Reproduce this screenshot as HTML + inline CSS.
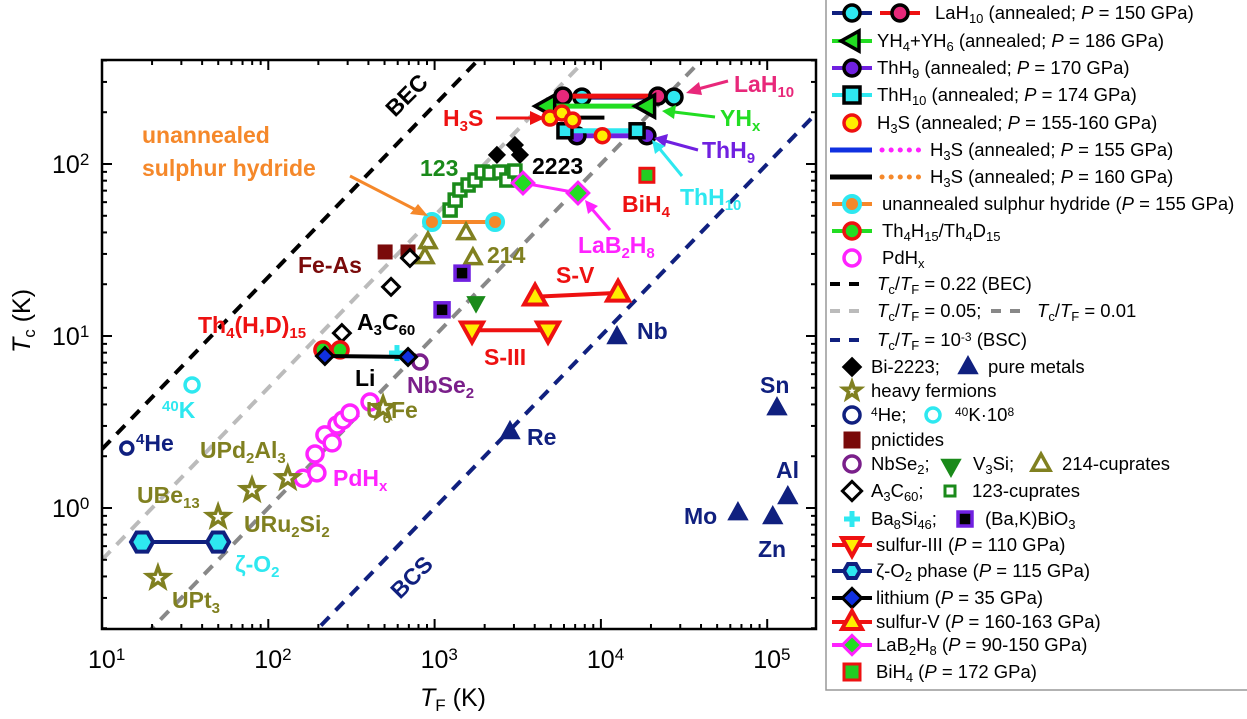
<!DOCTYPE html>
<html><head><meta charset="utf-8"><style>
html,body{margin:0;background:#fff;width:1247px;height:719px;overflow:hidden}
svg{display:block;font-family:"Liberation Sans",sans-serif}
.lb{font-weight:bold;font-size:23px}
.lg{font-size:18.5px}
</style></head><body>
<svg id="c" width="1247" height="719" viewBox="0 0 1247 719">
<g id="plot"></g>
<g id="marks"></g>
<g id="axes"></g>
<g>
<text class="lb" x="395" y="118" fill="#000" transform="rotate(-45 395 118)">BEC</text>
<text class="lb" x="400" y="600" fill="#10207f" transform="rotate(-45 400 600)">BCS</text>
<text class="lb" x="142" y="143" fill="#f5882a" font-size="24">unannealed</text>
<text class="lb" x="142" y="176" fill="#f5882a" font-size="24">sulphur hydride</text>
<text class="lb" x="443" y="126" fill="#ee1111">H<tspan baseline-shift="-30%" font-size="15">3</tspan>S</text>
<text class="lb" x="734" y="92" fill="#e8287a">LaH<tspan baseline-shift="-30%" font-size="15">10</tspan></text>
<text class="lb" x="720" y="126" fill="#22dd22">YH<tspan baseline-shift="-30%" font-size="15">x</tspan></text>
<text class="lb" x="702" y="158" fill="#7020e0">ThH<tspan baseline-shift="-30%" font-size="15">9</tspan></text>
<text class="lb" x="680" y="205" fill="#2ee8f0">ThH<tspan baseline-shift="-30%" font-size="15">10</tspan></text>
<text class="lb" x="420" y="176" fill="#1a8a1a">123</text>
<text class="lb" x="532" y="174" fill="#000">2223</text>
<text class="lb" x="622" y="212" fill="#ee1111">BiH<tspan baseline-shift="-30%" font-size="15">4</tspan></text>
<text class="lb" x="578" y="253" fill="#ff22ff">LaB<tspan baseline-shift="-30%" font-size="15">2</tspan>H<tspan baseline-shift="-30%" font-size="15">8</tspan></text>
<text class="lb" x="487" y="263" fill="#808020">214</text>
<text class="lb" x="556" y="283" fill="#ee1111">S-V</text>
<text class="lb" x="484" y="365" fill="#ee1111">S-III</text>
<text class="lb" x="637" y="339" fill="#10207f">Nb</text>
<text class="lb" x="298" y="273" fill="#7a0a0a">Fe-As</text>
<text class="lb" x="357" y="330" fill="#000">A<tspan baseline-shift="-30%" font-size="15">3</tspan>C<tspan baseline-shift="-30%" font-size="15">60</tspan></text>
<text class="lb" x="198" y="333" fill="#ee1111">Th<tspan baseline-shift="-30%" font-size="15">4</tspan>(H,D)<tspan baseline-shift="-30%" font-size="15">15</tspan></text>
<text class="lb" x="355" y="386" fill="#000">Li</text>
<text class="lb" x="407" y="393" fill="#7a1f8a">NbSe<tspan baseline-shift="-30%" font-size="15">2</tspan></text>
<text class="lb" x="366" y="418" fill="#808020">U<tspan baseline-shift="-30%" font-size="15">6</tspan>Fe</text>
<text class="lb" x="333" y="486" fill="#ff22ff">PdH<tspan baseline-shift="-30%" font-size="15">x</tspan></text>
<text class="lb" x="200" y="458" fill="#808020">UPd<tspan baseline-shift="-30%" font-size="15">2</tspan>Al<tspan baseline-shift="-30%" font-size="15">3</tspan></text>
<text class="lb" x="137" y="503" fill="#808020">UBe<tspan baseline-shift="-30%" font-size="15">13</tspan></text>
<text class="lb" x="244" y="532" fill="#808020">URu<tspan baseline-shift="-30%" font-size="15">2</tspan>Si<tspan baseline-shift="-30%" font-size="15">2</tspan></text>
<text class="lb" x="235" y="572" fill="#2ee8f0">ζ-O<tspan baseline-shift="-30%" font-size="15">2</tspan></text>
<text class="lb" x="172" y="608" fill="#808020">UPt<tspan baseline-shift="-30%" font-size="15">3</tspan></text>
<text class="lb" x="136" y="451" fill="#10207f"><tspan baseline-shift="50%" font-size="15">4</tspan>He</text>
<text class="lb" x="162" y="418" fill="#2ee8f0"><tspan baseline-shift="50%" font-size="15">40</tspan>K</text>
<text class="lb" x="527" y="445" fill="#10207f">Re</text>
<text class="lb" x="760" y="393" fill="#10207f">Sn</text>
<text class="lb" x="776" y="478" fill="#10207f">Al</text>
<text class="lb" x="684" y="524" fill="#10207f">Mo</text>
<text class="lb" x="758" y="557" fill="#10207f">Zn</text>
</g>
<g stroke-width="3">
<line x1="350" y1="176" x2="418" y2="211" stroke="#f5882a"/><polygon points="428,216 410,214 418,204" fill="#f5882a"/>
<line x1="496" y1="118" x2="532" y2="118" stroke="#ee1111"/><polygon points="545,118 530,111 530,125" fill="#ee1111"/>
<line x1="728" y1="81" x2="698" y2="89" stroke="#e8287a"/><polygon points="686,93 699,82 702,95" fill="#e8287a"/>
<line x1="715" y1="117" x2="674" y2="112" stroke="#22dd22"/><polygon points="662,111 676,105 674,119" fill="#22dd22"/>
<line x1="698" y1="150" x2="665" y2="141" stroke="#7020e0"/><polygon points="654,138 668,134 665,147" fill="#7020e0"/>
<line x1="682" y1="176" x2="659" y2="148" stroke="#2ee8f0"/><polygon points="652,140 665,146 655,154" fill="#2ee8f0"/>
<line x1="610" y1="230" x2="592" y2="209" stroke="#ff22ff"/><polygon points="585,200 598,206 588,214" fill="#ff22ff"/>
</g>
<g id="legend"></g>
<text x="22" y="345" font-size="25" transform="rotate(-90 30 345)"><tspan font-style="italic">T</tspan><tspan baseline-shift="-30%" font-size="17">c</tspan> (K)</text>
<text x="420" y="706" font-size="25"><tspan font-style="italic">T</tspan><tspan baseline-shift="-30%" font-size="17">F</tspan> (K)</text>
</svg>
<script>
// ---- data ----
const xTickExps=[1,2,3,4,5];
const yTickExps=[0,1,2];
const ratioLines=[0.22,0.05,0.01,0.001];
const lah10NavyTF=[7690,27500], lah10NavyTc=[245,245];
const lah10RedTF=[5910,22000], lah10RedTc=[248,248];
const yhTF=[4740,18900], yhTc=[217,217];
const thh9TF=[7180,18900], thh9Tc=[146,146];
const thh10TF=[6080,16500], thh10Tc=[156,156];
const h3sTF=[4940,5830,6760,10200], h3sTc=[185,198,180,146];
const h3s160TF=[6760,10500], h3s160Tc=[186,186];
const unannTF=[964,2310], unannTc=[46,46];
const c123TF=[1240,1330,1420,1590,1750,1930,2150,2470,2720,3040], c123Tc=[54,61.7,70.6,75.5,80.7,89.8,88.6,89.8,80.7,91];
const bi2223TF=[2370,3040,3260], bi2223Tc=[113,129,113];
const lab2h8TF=[3400,7280], lab2h8Tc=[77.5,67.8];
const bih4TF=[18900], bih4Tc=[86];
const pnicTF=[504,692], pnicTc=[30.8,30.8];
const c214TF=[912,875,1545,1700], c214Tc=[35.2,28.8,39.7,28.4];
const a3c60TF=[711,547,277], a3c60Tc=[28.4,19.3,10.4];
const bkboTF=[1462,1109], bkboTc=[23.2,14.2];
const v3siTF=[1774], v3siTc=[15.6];
const s3TF=[1679,4808], s3Tc=[10.8,10.8];
const s5TF=[4018,12680], s5Tc=[16.9,17.8];
const liTF=[219,692], liTc=[7.65,7.55];
const ba8TF=[594], ba8Tc=[7.96];
const nbse2TF=[817], nbse2Tc=[7.06];
const th4TF=[213,270], th4Tc=[8.3,8.3];
const pdhTF=[162,196,191,219,242,259,281,310,409], pdhTc=[1.49,1.60,2.06,2.66,2.39,3.04,3.25,3.57,4.13];
const hfTF=[490,131,79.8,49.9,21.7], hfTc=[3.81,1.49,1.27,0.887,0.392];
const he4TF=[14.1], he4Tc=[2.23];
const k40TF=[34.8], k40Tc=[5.19];
const o2TF=[17.4,49.9], o2Tc=[0.634,0.634];
const metalTF=[12500,2840,114500,133000,66700,108000], metalTc=[9.87,2.77,3.81,1.16,0.935,0.887];

// ---- axes ----
const L=102,R=816,T=60,B=629;
const X=v=>L+166.3*(Math.log10(v)-1);
const Y=v=>164-172*(Math.log10(v)-2);
const NS='http://www.w3.org/2000/svg';
function mk(tag,attrs,parent){const e=document.createElementNS(NS,tag);for(const k in attrs)e.setAttribute(k,attrs[k]);parent.appendChild(e);return e;}
const plot=document.getElementById('plot'), marks=document.getElementById('marks'), axes=document.getElementById('axes'), leg=document.getElementById('legend');
const defs=mk('defs',{},plot);const cp=mk('clipPath',{id:'cp'},defs);mk('rect',{x:L,y:T,width:R-L,height:B-T},cp);
const guideCol=['#000','#bbb','#888','#10207f'];
ratioLines.forEach((r,i)=>{
  const l=mk('line',{x1:X(10),y1:Y(10*r),x2:X(3e5),y2:Y(3e5*r),stroke:guideCol[i],'stroke-width':4,'stroke-dasharray':'12 9','clip-path':'url(#cp)'},plot);
  
  
});
const frame=mk('rect',{x:L,y:T,width:R-L,height:B-T,fill:'none',stroke:'#000','stroke-width':2.5},axes);


for(let e=1;e<=5;e++){for(let m=1;m<10;m++){const v=m*Math.pow(10,e);const x=X(v);if(x>R)break;const len=m==1?10:5;
  mk('line',{x1:x,y1:B,x2:x,y2:B-len,stroke:'#000','stroke-width':2},axes);mk('line',{x1:x,y1:T,x2:x,y2:T+len,stroke:'#000','stroke-width':2},axes);}}
for(let e=-1;e<=2;e++){for(let m=1;m<10;m++){const v=m*Math.pow(10,e);const y=Y(v);if(y>B||y<T)continue;const len=m==1?10:5;
  mk('line',{x1:L,y1:y,x2:L+len,y2:y,stroke:'#000','stroke-width':2},axes);mk('line',{x1:R,y1:y,x2:R-len,y2:y,stroke:'#000','stroke-width':2},axes);}}
xTickExps.forEach(e=>{const t=mk('text',{x:X(Math.pow(10,e))-14,y:668,'font-size':25},axes);t.innerHTML='10<tspan baseline-shift="45%" font-size="17">'+e+'</tspan>';
  
  });
yTickExps.forEach(e=>{const t=mk('text',{x:52,y:Y(Math.pow(10,e))+9,'font-size':25},axes);t.innerHTML='10<tspan baseline-shift="45%" font-size="17">'+e+'</tspan>';
  
  });

// ---- markers ----
function shape(g,type,x,y,r,fill,stroke,sw){
  let p;
  if(type=='o')return mk('circle',{cx:x,cy:y,r:r,fill:fill,stroke:stroke,'stroke-width':sw},g);
  if(type=='s')return mk('rect',{x:x-r,y:y-r,width:2*r,height:2*r,fill:fill,stroke:stroke,'stroke-width':sw},g);
  if(type=='^')p=[[0,-1.1],[1,0.7],[-1,0.7]];
  if(type=='v')p=[[0,1.1],[1,-0.7],[-1,-0.7]];
  if(type=='<')p=[[-1.1,0],[0.7,-1],[0.7,1]];
  if(type=='d')p=[[0,-1.2],[1.2,0],[0,1.2],[-1.2,0]];
  if(type=='h')p=[[-1,0],[-0.5,-0.87],[0.5,-0.87],[1,0],[0.5,0.87],[-0.5,0.87]];
  if(type=='*'){p=[];for(let i=0;i<10;i++){const a=-Math.PI/2+i*Math.PI/5,rr=i%2?0.45:1.1;p.push([Math.cos(a)*rr,Math.sin(a)*rr]);}}
  if(type=='+'){mk('line',{x1:x-r,y1:y,x2:x+r,y2:y,stroke:fill,'stroke-width':5},g);return mk('line',{x1:x,y1:y-r,x2:x,y2:y+r,stroke:fill,'stroke-width':5},g);}
  return mk('polygon',{points:p.map(q=>(x+q[0]*r)+','+(y+q[1]*r)).join(' '),fill:fill,stroke:stroke,'stroke-width':sw,'stroke-linejoin':'miter'},g);
}
function series(name,tf,tc,type,r,fill,stroke,sw,lineCol,lw){
  const g=mk('g',{},marks);
  
  
  if(lineCol){mk('polyline',{points:tf.map((v,i)=>X(v)+','+Y(tc[i])).join(' '),fill:'none',stroke:lineCol,'stroke-width':lw||4},g);}
  tf.forEach((v,i)=>{const m=shape(g,type,X(v),Y(tc[i]),r,fill,stroke,sw);
    
    });
}
series('bi2223',bi2223TF,bi2223Tc,'d',7,'#000','#000',1);
series('cuprates-123',c123TF,c123Tc,'s',6,'#fff','#1a8a1a',3.5);
series('unannealed-sulphur-hydride',unannTF,unannTc,'o',8,'#f5882a','#2ee8f0',4,'#f5882a',4);
series('lab2h8',lab2h8TF,lab2h8Tc,'d',9,'#22dd22','#ff22ff',3,'#ff22ff',3);
series('bih4',bih4TF,bih4Tc,'s',7,'#22cc22','#ee1111',3);
series('lah10-navy',lah10NavyTF,lah10NavyTc,'o',8,'#2ee8f0','#000',3.5,'#10207f',5);
series('lah10-red',lah10RedTF,lah10RedTc,'o',8,'#e8287a','#000',3.5,'#ee1111',5);
series('yh4-yh6',yhTF,yhTc,'<',11,'#22dd22','#000',3.5,'#22dd22',5);
series('h3s-160',h3s160TF,h3s160Tc,'o',0.1,'#000','#000',0,'#000',4);
series('thh9',thh9TF,thh9Tc,'o',8,'#7020e0','#000',3.5,'#7020e0',5);
series('thh10',thh10TF,thh10Tc,'s',7,'#2ee8f0','#000',3.5,'#2ee8f0',5);
series('h3s',h3sTF,h3sTc,'o',7,'#ffee00','#ee1111',3.5);
series('pnictides',pnicTF,pnicTc,'s',7,'#7a0a0a','#7a0a0a',1);
series('cuprates-214',c214TF,c214Tc,'^',8,'#fff','#808020',3.5);
series('a3c60',a3c60TF,a3c60Tc,'d',7,'#fff','#000',3);
series('bakbio3',bkboTF,bkboTc,'s',7,'#000','#7020e0',3.5);
series('v3si',v3siTF,v3siTc,'v',8,'#1a8a1a','#1a8a1a',2);
series('sulfur-iii',s3TF,s3Tc,'v',11,'#ffee00','#ee1111',4,'#ee1111',4);
series('sulfur-v',s5TF,s5Tc,'^',11,'#ffee00','#ee1111',4,'#ee1111',4);
series('th4h15',th4TF,th4Tc,'o',8,'#22dd22','#ee1111',3.5);
series('ba8si46',ba8TF,ba8Tc,'+',8,'#2ee8f0','#2ee8f0',1);
series('nbse2',nbse2TF,nbse2Tc,'o',7,'#fff','#7a1f8a',3.5);
series('lithium',liTF,liTc,'d',7,'#1030e0','#000',3,'#000',4);
series('pdhx',pdhTF,pdhTc,'o',8,'#fff','#ff22ff',3.5);
series('heavy-fermions',hfTF,hfTc,'*',10,'#fff','#808020',3.5);
series('he4',he4TF,he4Tc,'o',6,'#fff','#10207f',3.5);
series('k40',k40TF,k40Tc,'o',7,'#fff','#2ee8f0',3.5);
series('zeta-o2',o2TF,o2Tc,'h',11,'#2ee8f0','#10207f',4,'#10207f',4);
series('pure-metals',metalTF,metalTc,'^',9,'#10207f','#10207f',2);

// ---- legend ----
mk('rect',{x:826,y:-2,width:430,height:692,fill:'#fff',stroke:'#999','stroke-width':1.5},leg);
function lrow(y,html,tx){const t=mk('text',{x:tx||877,y:y+6,class:'lg'},leg);t.innerHTML=html;
  
  }
function lsym(y,type,fill,stroke,sw,line,x){x=x||852;if(line)mk('line',{x1:x-20,y1:y,x2:x+20,y2:y,stroke:line,'stroke-width':4},leg);if(type)shape(leg,type,x,y,type=='<'||type=='v'||type=='^'?10:8,fill,stroke,sw);}
const P='<tspan font-style="italic">P</tspan>', sb=s=>'<tspan baseline-shift="-30%" font-size="13">'+s+'</tspan>', sp=s=>'<tspan baseline-shift="45%" font-size="12">'+s+'</tspan>';
lsym(13,'o','#2ee8f0','#000',3.5,'#10207f');lsym(13,'o','#e8287a','#000',3.5,'#ee1111',900);lrow(13,'LaH'+sb('10')+' (annealed; '+P+' = 150 GPa)',935);
lsym(41,'<','#22dd22','#000',3.5,'#22dd22');lrow(41,'YH'+sb('4')+'+YH'+sb('6')+' (annealed; '+P+' = 186 GPa)');
lsym(68,'o','#7020e0','#000',3.5,'#7020e0');lrow(68,'ThH'+sb('9')+' (annealed; '+P+' = 170 GPa)');
lsym(95,'s','#2ee8f0','#000',3.5,'#2ee8f0');lrow(95,'ThH'+sb('10')+' (annealed; '+P+' = 174 GPa)');
lsym(123,'o','#ffee00','#ee1111',3.5);lrow(123,'H'+sb('3')+'S (annealed; '+P+' = 155-160 GPa)');
mk('line',{x1:830,y1:150,x2:872,y2:150,stroke:'#1030e0','stroke-width':5},leg);mk('line',{x1:882,y1:150,x2:922,y2:150,stroke:'#ff22ff','stroke-width':5,'stroke-dasharray':'0.1 9','stroke-linecap':'round'},leg);lrow(150,'H'+sb('3')+'S (annealed; '+P+' = 155 GPa)',930);
mk('line',{x1:830,y1:177,x2:872,y2:177,stroke:'#000','stroke-width':5},leg);mk('line',{x1:882,y1:177,x2:922,y2:177,stroke:'#f5882a','stroke-width':5,'stroke-dasharray':'0.1 9','stroke-linecap':'round'},leg);lrow(177,'H'+sb('3')+'S (annealed; '+P+' = 160 GPa)',930);
lsym(204,'o','#f5882a','#2ee8f0',4,'#f5882a');lrow(204,'unannealed sulphur hydride ('+P+' = 155 GPa)',882);
lsym(231,'o','#22dd22','#ee1111',3.5,'#22dd22');lrow(231,'Th'+sb('4')+'H'+sb('15')+'/Th'+sb('4')+'D'+sb('15'),882);
lsym(258,'o','#fff','#ff22ff',3.5);lrow(258,'PdH'+sb('x'),882);
const TcTF='<tspan font-style="italic">T</tspan>'+sb('c')+'/<tspan font-style="italic">T</tspan>'+sb('F');
mk('line',{x1:830,y1:284,x2:868,y2:284,stroke:'#000','stroke-width':4,'stroke-dasharray':'10 9'},leg);lrow(284,TcTF+' = 0.22 (BEC)');
mk('line',{x1:830,y1:311,x2:868,y2:311,stroke:'#bbb','stroke-width':4,'stroke-dasharray':'10 9'},leg);lrow(311,TcTF+' = 0.05;');
mk('line',{x1:991,y1:311,x2:1025,y2:311,stroke:'#888','stroke-width':4,'stroke-dasharray':'10 9'},leg);lrow(311,TcTF+' = 0.01',1037);
mk('line',{x1:830,y1:340,x2:868,y2:340,stroke:'#10207f','stroke-width':4,'stroke-dasharray':'10 9'},leg);lrow(340,TcTF+' = 10'+sp('-3')+' (BSC)');
lsym(367,'d','#000','#000',1);lrow(367,'Bi-2223;',871);shape(leg,'^',968,367,9,'#10207f','#10207f',2);lrow(367,'pure metals',988);
lsym(391,'*','#fff','#808020',3.5);lrow(391,'heavy fermions',871);
lsym(415,'o','#fff','#10207f',3.5);lrow(415,sp('4')+'He;',871);shape(leg,'o',933,415,7,'#fff','#2ee8f0',3.5);lrow(415,sp('40')+'K·10'+sp('8'),955);
lsym(440,'s','#7a0a0a','#7a0a0a',1);lrow(440,'pnictides',871);
lsym(464,'o','#fff','#7a1f8a',3.5);lrow(464,'NbSe'+sb('2')+';',871);shape(leg,'v',951,466,9,'#1a8a1a','#1a8a1a',2);lrow(464,'V'+sb('3')+'Si;',973);shape(leg,'^',1041,464,9,'#fff','#808020',3.5);lrow(464,'214-cuprates',1062);
lsym(491,'d','#fff','#000',3);lrow(491,'A'+sb('3')+'C'+sb('60')+';',871);shape(leg,'s',950,491,5,'#fff','#1a8a1a',3);lrow(491,'123-cuprates',972);
lsym(519,'+','#2ee8f0','#2ee8f0',1);lrow(519,'Ba'+sb('8')+'Si'+sb('46')+';',871);shape(leg,'s',965,519,7,'#000','#7020e0',3.5);lrow(519,'(Ba,K)BiO'+sb('3'),985);
lsym(545,'v','#ffee00','#ee1111',4,'#ee1111');lrow(545,'sulfur-III ('+P+' = 110 GPa)',876);
lsym(571,'h','#2ee8f0','#10207f',4,'#10207f');lrow(571,'ζ-O'+sb('2')+' phase ('+P+' = 115 GPa)',876);
lsym(598,'d','#1030e0','#000',3,'#000');lrow(598,'lithium ('+P+' = 35 GPa)',876);
lsym(622,'^','#ffee00','#ee1111',4,'#ee1111');lrow(622,'sulfur-V ('+P+' = 160-163 GPa)',876);
lsym(645,'d','#22dd22','#ff22ff',3,'#ff22ff');lrow(645,'LaB'+sb('2')+'H'+sb('8')+' ('+P+' = 90-150 GPa)',876);
lsym(672,'s','#22cc22','#ee1111',3);lrow(672,'BiH'+sb('4')+' ('+P+' = 172 GPa)',876);
</script>
</body></html>
